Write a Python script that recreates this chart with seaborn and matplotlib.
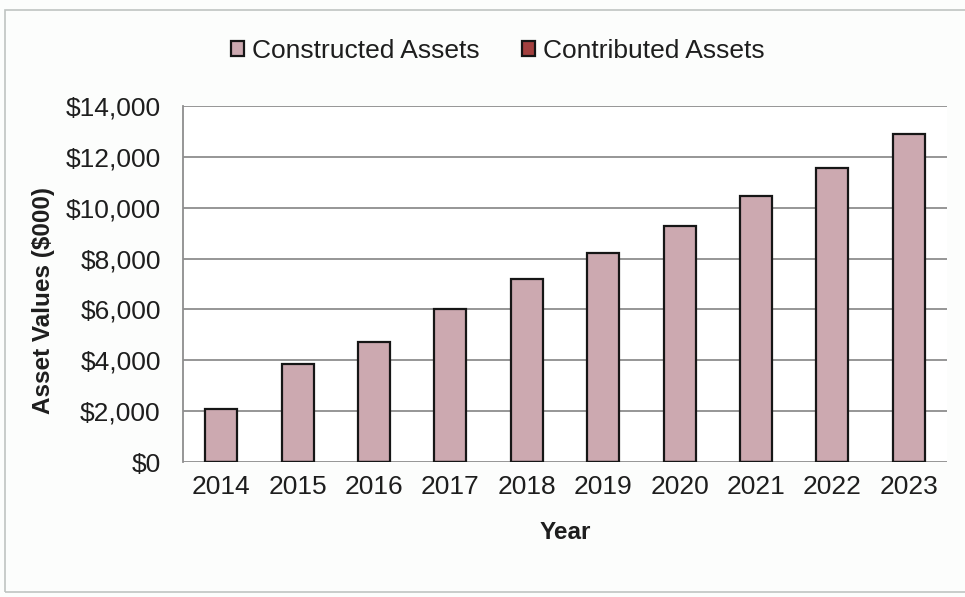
import matplotlib
matplotlib.use("Agg")
import matplotlib.pyplot as plt
from matplotlib.patches import Rectangle
from matplotlib.ticker import FuncFormatter, MultipleLocator
import pandas as pd
import seaborn as sns

# Asset values in $000 by year
years = ["2014", "2015", "2016", "2017", "2018", "2019", "2020", "2021", "2022", "2023"]
constructed = [2080, 3840, 4710, 6010, 7180, 8220, 9300, 10480, 11580, 12900]
contributed = [0, 0, 0, 0, 0, 0, 0, 0, 0, 0]
series_names = ["Constructed Assets", "Contributed Assets"]
series_colors = ["#CCA9B0", "#A3403F"]

df = pd.DataFrame({
    "Year": years * 2,
    "Value": constructed + contributed,
    "Series": [series_names[0]] * len(years) + [series_names[1]] * len(years),
})

sns.set_theme(style="white")
plt.rcParams["font.family"] = ["Liberation Sans", "DejaVu Sans"]
text_color = "#1E1E1E"

fig = plt.figure(figsize=(9.65, 5.97), dpi=100, facecolor="#FCFDFC")
ax = fig.add_axes([0.1896, 0.2261, 0.7917, 0.5963])
ax.set_facecolor("white")

sns.barplot(
    data=df, x="Year", y="Value", hue="Series", order=years,
    hue_order=series_names, palette=series_colors, dodge=False,
    saturation=1, width=0.42, edgecolor="#161616", linewidth=1.6,
    ax=ax, zorder=3,
)

ax.set_ylim(0, 14000)
ax.set_xlim(-0.5, len(years) - 0.5)
ax.yaxis.set_major_locator(MultipleLocator(2000))
ax.yaxis.set_major_formatter(FuncFormatter(lambda v, p: f"${v:,.0f}"))
ax.grid(axis="y", color="#8E8E8E", linewidth=1.3, zorder=0)
ax.set_axisbelow(True)

for side in ["top", "right", "bottom"]:
    ax.spines[side].set_visible(False)
ax.spines["left"].set_color("#8E8E8E")
ax.spines["left"].set_linewidth(1.3)

ax.tick_params(axis="y", length=0, pad=16, labelsize=19, labelcolor=text_color)
ax.tick_params(axis="x", length=0, pad=9, labelsize=19, labelcolor=text_color)

ax.set_xlabel("Year", fontsize=17.5, fontweight="bold", color=text_color, labelpad=16)
ax.set_ylabel("Asset Values ($000)", fontsize=17.5, fontweight="bold", color=text_color)
ax.yaxis.set_label_coords(-0.168, 0.455)

handles, labels = ax.get_legend_handles_labels()
ax.get_legend().remove()
fig.legend(
    handles, labels, loc="center", bbox_to_anchor=(0.516, 0.915), ncol=2,
    frameon=False, fontsize=19, handlelength=0.5, handleheight=0.5,
    handletextpad=0.3, columnspacing=1.6, labelcolor=text_color,
)

# light frame around the chart area
fig.patches.append(Rectangle((5 / 965, 5 / 597), 1.0, 582 / 597,
                             transform=fig.transFigure, fill=False,
                             edgecolor="#BFC4C2", linewidth=1.2))

fig.savefig("out.png", dpi=100, facecolor=fig.get_facecolor())
